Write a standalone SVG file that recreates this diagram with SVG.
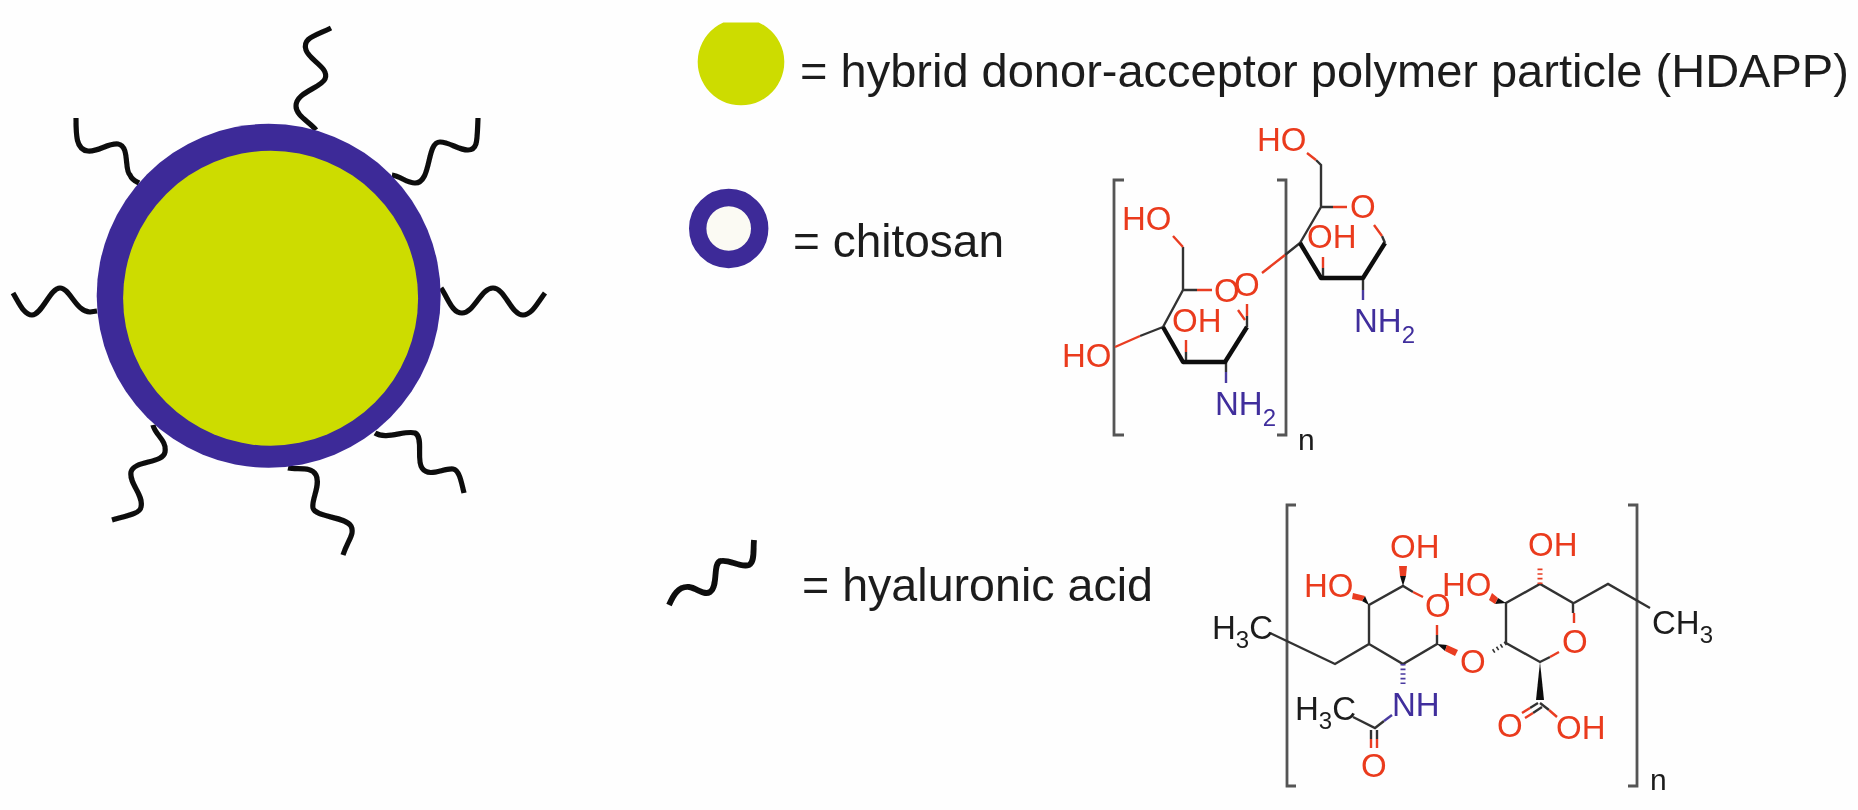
<svg xmlns="http://www.w3.org/2000/svg" width="1858" height="810" viewBox="0 0 1858 810">
<style>
text{font-family:"Liberation Sans",Arial,sans-serif}
.t{fill:#1c1c1c}
.c{font-size:33px}
.r{fill:#ea3a1e}
.u{fill:#3f2d9c}
.k{fill:#1c1c1c}
.s{font-size:24px}
.w{fill:none;stroke:#0d0d0d;stroke-width:5.2;stroke-linecap:butt}
.b{fill:none;stroke:#333;stroke-width:2.4}
.h{fill:none;stroke:#111;stroke-width:4.4;stroke-linejoin:round}
.br{fill:none;stroke:#e93c20;stroke-width:2.4}
.bu{fill:none;stroke:#4a3aa0;stroke-width:2.4}
.g{fill:none;stroke:#555;stroke-width:2.8}
</style>
<defs><filter id="soft" filterUnits="userSpaceOnUse" x="0" y="0" width="1858" height="810"><feGaussianBlur stdDeviation="0.55"/></filter></defs>
<rect width="1858" height="810" fill="#fefefe"/>
<g filter="url(#soft)">
<g id="particle">
<g id="chains">
<path class="w" d="M331,28C315,36 302,38 306,50C309,60 330,68 325,79C321,88 296,92 296,106C296,116 310,122 316,130"/>
<path class="w" d="M76,118C76,135 76,150 88,151C98,152 108,143 118,144C130,146 124,170 130,175C132,180 135,181 139,183"/>
<path class="w" d="M13,293C19,303 24,315 32,315C42,315 50,288 60,288C70,288 76,312 90,312L97,311"/>
<path class="w" d="M392,175C400,176 407,183 415,183C432,183 426,142 440,142C450,142 458,150 468,150C478,150 477,140 478,118"/>
<path class="w" d="M441,288C448,298 452,313 462,313C474,313 481,288 493,288C505,288 511,315 523,315C532,315 538,302 545,293"/>
<path class="w" d="M153,425C155,435 167,440 165,452C163,464 134,460 131,472C129,484 144,495 141,507C140,514 126,516 112,520"/>
<path class="w" d="M288,468C298,470 311,466 316,475C321,485 311,500 313,508C316,518 345,516 351,526C355,534 348,540 343,555"/>
<path class="w" d="M375,433C386,440 405,430 415,433C424,437 416,460 422,468C429,478 443,468 453,469C459,470 461,480 464,493"/>
</g>
<circle cx="268.7" cy="295.8" r="172" fill="#3c2a98"/>
<circle cx="270.6" cy="298.2" r="147.5" fill="#cddc05"/>
</g>
<g id="legend-hdapp">
<path d="M723.3,22.5A43.3,43.3 0 1 0 758.7,22.5Z" fill="#cddc05"/>
<text class="t" x="800" y="87" font-size="47">= hybrid donor-acceptor polymer particle (HDAPP)</text>
</g>
<g id="legend-chitosan">
<circle cx="728.7" cy="228.5" r="31" fill="#fbfaf3" stroke="#3c2a98" stroke-width="17.4"/>
<text class="t" x="793" y="256.5" font-size="46">= chitosan</text>
</g>
<g id="legend-ha">
<path d="M669,605C673,596 678,586 689,587C697,588 704,596 710,592C719,586 712,562 721,561C729,559 740,568 749,565C755,562 753,550 754,540" fill="none" stroke="#0d0d0d" stroke-width="5.8"/>
<text class="t" x="802" y="601" font-size="46.6">= hyaluronic acid</text>
</g>
<g id="chitosan-structure">
<path class="g" d="M1124,180H1114V435H1124M1277,180H1286V435H1277"/>
<path class="b" d="M1316,160L1321,165V207H1333M1300,243L1321,207M1285,255L1300,243M1323,268V278M1363,278V290M1183,247V290H1197M1163,327L1183,290M1140,336L1163,327M1186,352V362M1226,362V372M1247,327V316M1382,236L1385,243"/>
<path class="h" d="M1385,243L1363,278H1321L1300,243M1247,327L1225,362H1183L1163,327"/>
<path class="br" d="M1307,153L1316,160M1333,207H1347M1374,225L1382,236M1285,255L1262,273M1323,257V268M1173,236L1183,247M1197,290H1212M1247,316V304M1238,310L1245,320M1115,347L1140,336M1186,340V352"/>
<path class="bu" d="M1363,290V300M1226,372V383"/>
<text class="r c" x="1257" y="151">HO</text>
<text class="r c" x="1350" y="218">O</text>
<text class="r c" x="1307" y="248">OH</text>
<text class="u c" x="1354" y="332">NH<tspan class="s" dy="11">2</tspan></text>
<text class="r c" x="1214" y="302">O</text>
<text class="r c" x="1234" y="296">O</text>
<text class="r c" x="1122" y="230">HO</text>
<text class="r c" x="1172" y="332">OH</text>
<text class="r c" x="1062" y="367">HO</text>
<text class="u c" x="1215" y="415">NH<tspan class="s" dy="11">2</tspan></text>
<text class="k" x="1298" y="450" font-size="30">n</text>
</g>
<g id="hyaluronic-structure">
<path class="g" d="M1296,505H1287V786H1296M1628,505H1637V786H1628"/>
<path class="b" d="M1270,633L1335,664L1369,644V605L1403,586L1413,592M1437,635V644L1403,664L1369,644M1353,717L1375,728L1384,721M1573,613V603L1540,584L1506,603V643L1540,662L1550,657M1574,603L1608,584L1650,608M1371,730V739M1377,730V739M1540,703L1549,710M1530,708L1538,703M1533,713L1542,707"/>
<path class="br" d="M1413,592L1423,597M1437,625V635M1371,739V748M1377,739V748M1574,613V623M1559,652L1550,657M1522,713L1530,708M1525,718L1533,713M1549,710L1557,717"/>
<path class="bu" d="M1384,721L1392,715"/>
<path d="M1403,664V687" fill="none" stroke="#4a3aa0" stroke-width="5" stroke-dasharray="1.6 3"/>
<path d="M1540,584V567" fill="none" stroke="#e93c20" stroke-width="5" stroke-dasharray="1.6 3"/>
<path d="M1506,643L1492,652" fill="none" stroke="#333" stroke-width="4" stroke-dasharray="1.6 3"/>
<polygon points="1369,605 1362,601 1365,596" fill="#111"/>
<polygon points="1362,601 1365,596 1353,593 1352,599" fill="#e93c20"/>
<polygon points="1403,586 1400,576 1406,576" fill="#111"/>
<polygon points="1400,576 1406,576 1407,566 1399,566" fill="#e93c20"/>
<polygon points="1437,644 1447,645 1445,651" fill="#111"/>
<polygon points="1447,645 1445,651 1455,656 1458,650" fill="#e93c20"/>
<polygon points="1506,603 1498,598 1495,604" fill="#111"/>
<polygon points="1498,598 1495,604 1489,600 1492,593" fill="#e93c20"/>
<polygon points="1540,662 1536,700 1544,700" fill="#111"/>
<text class="k c" x="1212" y="639">H<tspan class="s" dy="9">3</tspan><tspan dy="-9">C</tspan></text>
<text class="r c" x="1390" y="558">OH</text>
<text class="r c" x="1304" y="597">HO</text>
<text class="r c" x="1425" y="617">O</text>
<text class="r c" x="1460" y="673">O</text>
<text class="u c" x="1392" y="716">NH</text>
<text class="k c" x="1295" y="720">H<tspan class="s" dy="9">3</tspan><tspan dy="-9">C</tspan></text>
<text class="r c" x="1361" y="777">O</text>
<text class="r c" x="1528" y="556">OH</text>
<text class="r c" x="1442" y="596">HO</text>
<text class="r c" x="1562" y="653">O</text>
<text class="r c" x="1497" y="737">O</text>
<text class="r c" x="1556" y="739">OH</text>
<text class="k c" x="1652" y="634">CH<tspan class="s" dy="9">3</tspan></text>
<text class="k" x="1650" y="790" font-size="30">n</text>
</g>
</g>
</svg>
